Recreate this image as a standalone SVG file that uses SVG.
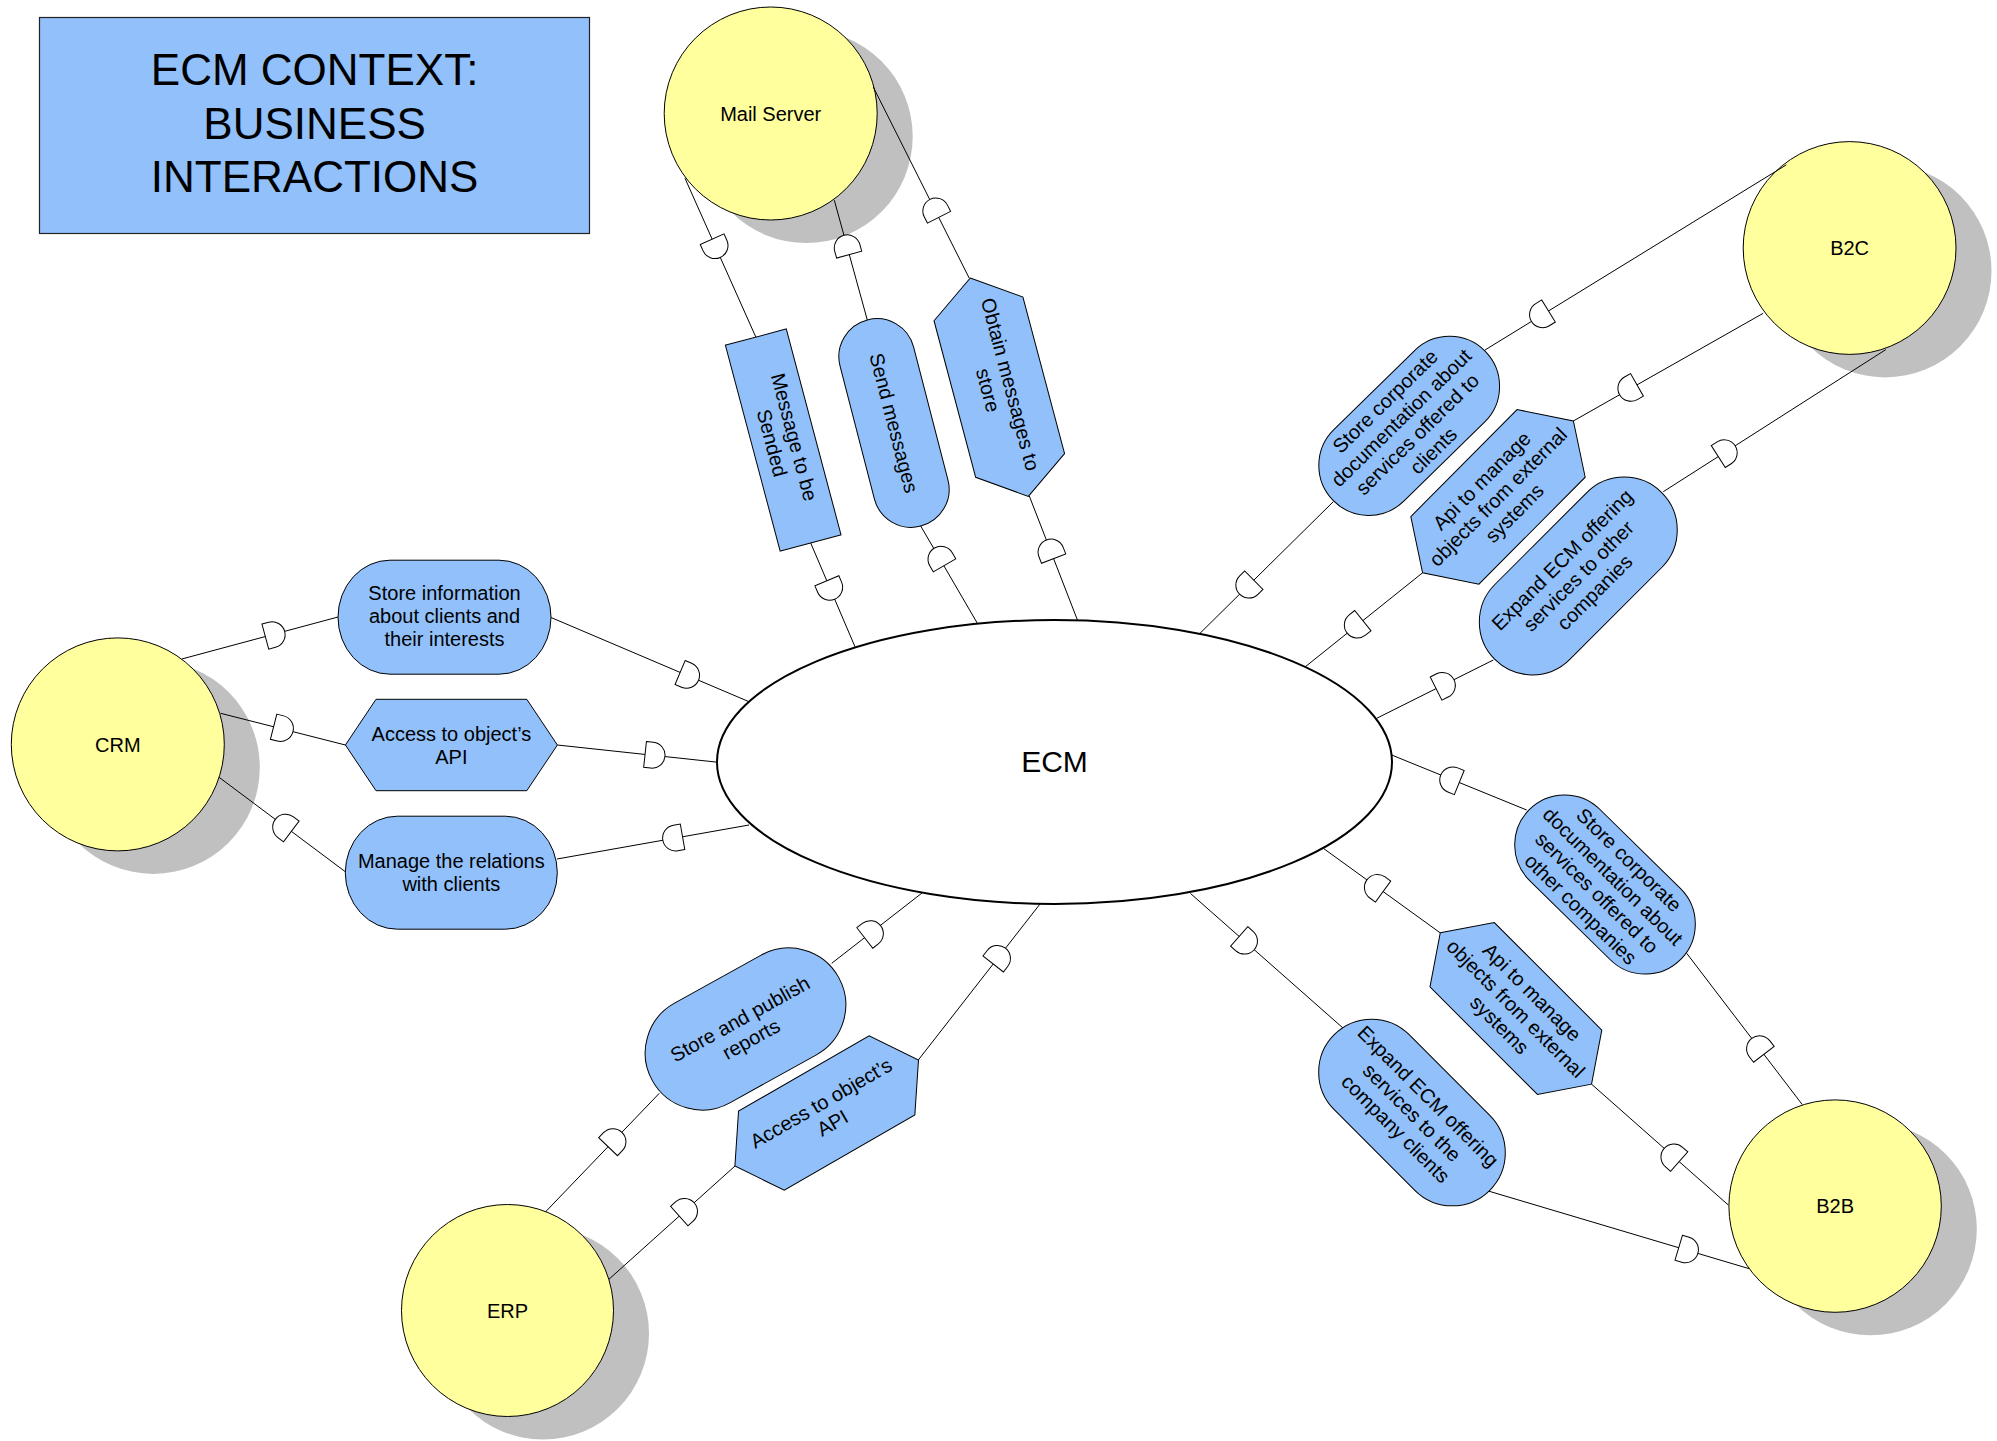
<svg xmlns="http://www.w3.org/2000/svg" xmlns:xlink="http://www.w3.org/1999/xlink" width="1997" height="1441" viewBox="0 0 1997 1441">
  <style>
    .title { fill: #91c0fb; stroke: #222; stroke-width: 1.2; }
    .ttl { font-family: "Liberation Sans", Arial, sans-serif; font-size: 44px; text-anchor: middle; fill: #000; }
    .actor { fill: #ffff9e; stroke: #000; stroke-width: 1; }
    .shadow { fill: #c0c0c0; stroke: none; }
    .proc { fill: #91c0fb; stroke: #000; stroke-width: 1; }
    .core { fill: #fff; stroke: #000; stroke-width: 2; }
    .lbl { font-family: "Liberation Sans", Arial, sans-serif; font-size: 20px; text-anchor: middle; fill: #000; }
    .big { font-family: "Liberation Sans", Arial, sans-serif; font-size: 30px; text-anchor: middle; fill: #000; }
    .conn line { stroke: #000; stroke-width: 1; fill: none; }
    .sock { fill: #fff; stroke: #000; stroke-width: 1; }
  </style>
  <defs>
    <!-- half-round socket drawn on a connector; the rounded side points along +x -->
    <path id="sock" class="sock" d="M-10,-13 H-3 A13,13 0 0 1 -3,13 H-10 Z"/>
  </defs>

  <rect width="1997" height="1441" fill="#fff"/>

  <!-- title -->
  <g id="title">
    <rect class="title" x="39.5" y="17.5" width="550" height="216"/>
    <text class="ttl" x="314.6" y="85">ECM CONTEXT:</text>
    <text class="ttl" x="314.6" y="138.5">BUSINESS</text>
    <text class="ttl" x="314.6" y="192">INTERACTIONS</text>
  </g>

  <!-- external systems -->
  <g id="mail-server">
    <circle class="shadow" cx="806.2" cy="136.5" r="106.5"/>
    <circle class="actor" cx="770.7" cy="113.5" r="106.5"/>
    <text class="lbl" x="770.7" y="120.5">Mail Server</text>
  </g>
  <g id="crm">
    <circle class="shadow" cx="153.3" cy="767.4" r="106.5"/>
    <circle class="actor" cx="117.8" cy="744.4" r="106.5"/>
    <text class="lbl" x="117.8" y="751.5">CRM</text>
  </g>
  <g id="erp">
    <circle class="shadow" cx="543" cy="1333.5" r="106"/>
    <circle class="actor" cx="507.5" cy="1310.5" r="106"/>
    <text class="lbl" x="507.5" y="1317.5">ERP</text>
  </g>
  <g id="b2c">
    <circle class="shadow" cx="1885.1" cy="271" r="106.4"/>
    <circle class="actor" cx="1849.6" cy="248" r="106.4"/>
    <text class="lbl" x="1849.6" y="255">B2C</text>
  </g>
  <g id="b2b">
    <circle class="shadow" cx="1870.6" cy="1229.1" r="106.2"/>
    <circle class="actor" cx="1835.1" cy="1206.1" r="106.2"/>
    <text class="lbl" x="1835.1" y="1213">B2B</text>
  </g>

  <!-- connectors -->
  <g id="connectors" class="conn">
    <line x1="685" y1="178.3" x2="755.8" y2="337"/>
    <line x1="810.7" y1="543" x2="855" y2="646.8"/>
    <line x1="834.3" y1="200.2" x2="867.3" y2="320"/>
    <line x1="920.7" y1="526" x2="977.3" y2="623.2"/>
    <line x1="873.3" y1="87.1" x2="969.3" y2="278.3"/>
    <line x1="1029.3" y1="496" x2="1077.7" y2="620.7"/>

    <line x1="181.8" y1="659" x2="338" y2="617"/>
    <line x1="551" y1="617.5" x2="749" y2="701.7"/>
    <line x1="220.6" y1="713.3" x2="345.4" y2="745"/>
    <line x1="557.4" y1="745" x2="718.3" y2="762.3"/>
    <line x1="219.1" y1="777.3" x2="345.3" y2="871.7"/>
    <line x1="557" y1="859" x2="749" y2="825"/>

    <line x1="545.3" y1="1212.1" x2="659.3" y2="1093.3"/>
    <line x1="831.7" y1="963.3" x2="922" y2="893"/>
    <line x1="608.9" y1="1279.3" x2="735" y2="1166"/>
    <line x1="918.3" y1="1060" x2="1040" y2="904"/>

    <line x1="1786.4" y1="164.8" x2="1485" y2="350"/>
    <line x1="1333.3" y1="501.7" x2="1200" y2="633.3"/>
    <line x1="1763.2" y1="313.3" x2="1573.3" y2="421"/>
    <line x1="1422.7" y1="572.7" x2="1305" y2="667"/>
    <line x1="1885.8" y1="349.6" x2="1663.3" y2="491.7"/>
    <line x1="1493.3" y1="660" x2="1376.7" y2="718.3"/>

    <line x1="1391.7" y1="755" x2="1526.7" y2="810"/>
    <line x1="1686.7" y1="953.3" x2="1802.2" y2="1104.5"/>
    <line x1="1323.3" y1="848.3" x2="1440" y2="932.7"/>
    <line x1="1591.7" y1="1084.3" x2="1728.3" y2="1205"/>
    <line x1="1190.5" y1="893.5" x2="1343.3" y2="1028.3"/>
    <line x1="1488.3" y1="1191" x2="1748.9" y2="1268.6"/>

    <use xlink:href="#sock" transform="translate(716.2,248.3) rotate(66)"/>
    <use xlink:href="#sock" transform="translate(830.8,590) rotate(67)"/>
    <use xlink:href="#sock" transform="translate(846.5,245) rotate(254.7)"/>
    <use xlink:href="#sock" transform="translate(939.5,556.7) rotate(239.9)"/>
    <use xlink:href="#sock" transform="translate(934.5,208.3) rotate(243.3)"/>
    <use xlink:href="#sock" transform="translate(1050,549.3) rotate(248.8)"/>

    <use xlink:href="#sock" transform="translate(275,634) rotate(-15.1)"/>
    <use xlink:href="#sock" transform="translate(689.3,676.4) rotate(22.8)"/>
    <use xlink:href="#sock" transform="translate(283.3,729.2) rotate(14.3)"/>
    <use xlink:href="#sock" transform="translate(655,755.5) rotate(6.1)"/>
    <use xlink:href="#sock" transform="translate(283.3,825.4) rotate(216.8)"/>
    <use xlink:href="#sock" transform="translate(672.7,838.5) rotate(170)"/>

    <use xlink:href="#sock" transform="translate(615,1139.5) rotate(-46.2)"/>
    <use xlink:href="#sock" transform="translate(872.7,931.8) rotate(-37.9)"/>
    <use xlink:href="#sock" transform="translate(686.7,1209.4) rotate(-41.9)"/>
    <use xlink:href="#sock" transform="translate(999.3,956.1) rotate(-52)"/>

    <use xlink:href="#sock" transform="translate(1540,316.2) rotate(148.4)"/>
    <use xlink:href="#sock" transform="translate(1246.7,587.2) rotate(135.4)"/>
    <use xlink:href="#sock" transform="translate(1628.3,389.8) rotate(150.4)"/>
    <use xlink:href="#sock" transform="translate(1355,626.9) rotate(141.3)"/>
    <use xlink:href="#sock" transform="translate(1726.7,451.2) rotate(-32.6)"/>
    <use xlink:href="#sock" transform="translate(1445,684.1) rotate(-26.6)"/>

    <use xlink:href="#sock" transform="translate(1450,778.8) rotate(202.2)"/>
    <use xlink:href="#sock" transform="translate(1757.8,1046.4) rotate(232.6)"/>
    <use xlink:href="#sock" transform="translate(1375,885.7) rotate(215.9)"/>
    <use xlink:href="#sock" transform="translate(1671.7,1155) rotate(221.5)"/>
    <use xlink:href="#sock" transform="translate(1246.7,943.1) rotate(41.4)"/>
    <use xlink:href="#sock" transform="translate(1688.3,1250.6) rotate(16.6)"/>
  </g>

  <!-- the ECM system itself -->
  <g id="ecm">
    <ellipse class="core" cx="1054.5" cy="762" rx="337.5" ry="142"/>
    <text class="big" x="1054.5" y="772">ECM</text>
  </g>

  <!-- Mail Server interactions -->
  <g id="msg-to-be-sended" transform="translate(783.2,440) rotate(75.1)">
    <rect class="proc" x="-106.5" y="-31.5" width="213" height="63"/>
    <text class="lbl" x="0" y="-4.5">Message to be</text>
    <text class="lbl" x="0" y="18.5">Sended</text>
  </g>
  <g id="send-messages" transform="translate(894,423) rotate(75.5)">
    <rect class="proc" x="-106.5" y="-38" width="213" height="76" rx="38" ry="38"/>
    <text class="lbl" x="0" y="7">Send messages</text>
  </g>
  <g id="obtain-messages" transform="translate(999.3,387.2) rotate(75.1)">
    <polygon class="proc" points="-113,0 -81,-46 81,-46 113,0 81,46 -81,46"/>
    <text class="lbl" x="0" y="-4.5">Obtain messages to</text>
    <text class="lbl" x="0" y="18.5">store</text>
  </g>

  <!-- CRM interactions -->
  <g id="crm-store-info" transform="translate(444.5,617.2)">
    <rect class="proc" x="-106.5" y="-57" width="213" height="114" rx="52" ry="57"/>
    <text class="lbl" x="0" y="-17.5">Store information</text>
    <text class="lbl" x="0" y="5.5">about clients and</text>
    <text class="lbl" x="0" y="28.5">their interests</text>
  </g>
  <g id="crm-api" transform="translate(451.4,745)">
    <polygon class="proc" points="-106,0 -75.4,-45.7 75.4,-45.7 106,0 75.4,45.7 -75.4,45.7"/>
    <text class="lbl" x="0" y="-4.5">Access to object’s</text>
    <text class="lbl" x="0" y="18.5">API</text>
  </g>
  <g id="crm-relations" transform="translate(451.3,872.7)">
    <rect class="proc" x="-106" y="-56.5" width="212" height="113" rx="52" ry="56.5"/>
    <text class="lbl" x="0" y="-4.5">Manage the relations</text>
    <text class="lbl" x="0" y="18.5">with clients</text>
  </g>

  <!-- ERP interactions -->
  <g id="erp-reports" transform="translate(745.5,1029) rotate(-29)">
    <rect class="proc" x="-106.5" y="-57" width="213" height="114" rx="57" ry="57"/>
    <text class="lbl" x="0" y="-4.5">Store and publish</text>
    <text class="lbl" x="0" y="18.5">reports</text>
  </g>
  <g id="erp-api" transform="translate(826.7,1113) rotate(-30)">
    <polygon class="proc" points="-106,0 -75.4,-45.7 75.4,-45.7 106,0 75.4,45.7 -75.4,45.7"/>
    <text class="lbl" x="0" y="-4.5">Access to object’s</text>
    <text class="lbl" x="0" y="18.5">API</text>
  </g>

  <!-- B2C interactions -->
  <g id="b2c-docs" transform="translate(1409.2,425.9) rotate(-44.4)">
    <rect class="proc" x="-106.5" y="-50" width="213" height="100" rx="50" ry="50"/>
    <text class="lbl" x="0" y="-27.5">Store corporate</text>
    <text class="lbl" x="0" y="-4.5">documentation about</text>
    <text class="lbl" x="0" y="18.5">services offered to</text>
    <text class="lbl" x="0" y="41.5">clients</text>
  </g>
  <g id="b2c-api" transform="translate(1498,496.9) rotate(-45.2)">
    <polygon class="proc" points="-107,0 -75.4,-48 75.4,-48 107,0 75.4,48 -75.4,48"/>
    <text class="lbl" x="0" y="-16">Api to manage</text>
    <text class="lbl" x="0" y="7">objects from external</text>
    <text class="lbl" x="0" y="30">systems</text>
  </g>
  <g id="b2c-expand" transform="translate(1578.3,576) rotate(-45)">
    <rect class="proc" x="-118" y="-53" width="236" height="106" rx="53" ry="53"/>
    <text class="lbl" x="0" y="-16">Expand ECM offering</text>
    <text class="lbl" x="0" y="7">services to other</text>
    <text class="lbl" x="0" y="30">companies</text>
  </g>

  <!-- B2B interactions -->
  <g id="b2b-docs" transform="translate(1605,884.5) rotate(44.5)">
    <rect class="proc" x="-106.5" y="-50" width="213" height="100" rx="50" ry="50"/>
    <text class="lbl" x="0" y="-27.5">Store corporate</text>
    <text class="lbl" x="0" y="-4.5">documentation about</text>
    <text class="lbl" x="0" y="18.5">services offered to</text>
    <text class="lbl" x="0" y="41.5">other companies</text>
  </g>
  <g id="b2b-api" transform="translate(1515.9,1008.5) rotate(45)">
    <polygon class="proc" points="-107,0 -76,-45.5 76,-45.5 107,0 76,45.5 -76,45.5"/>
    <text class="lbl" x="0" y="-16">Api to manage</text>
    <text class="lbl" x="0" y="7">objects from external</text>
    <text class="lbl" x="0" y="30">systems</text>
  </g>
  <g id="b2b-expand" transform="translate(1412,1112.5) rotate(45)">
    <rect class="proc" x="-110" y="-53" width="220" height="106" rx="53" ry="53"/>
    <text class="lbl" x="0" y="-16">Expand ECM offering</text>
    <text class="lbl" x="0" y="7">services to the</text>
    <text class="lbl" x="0" y="30">company clients</text>
  </g>
</svg>
